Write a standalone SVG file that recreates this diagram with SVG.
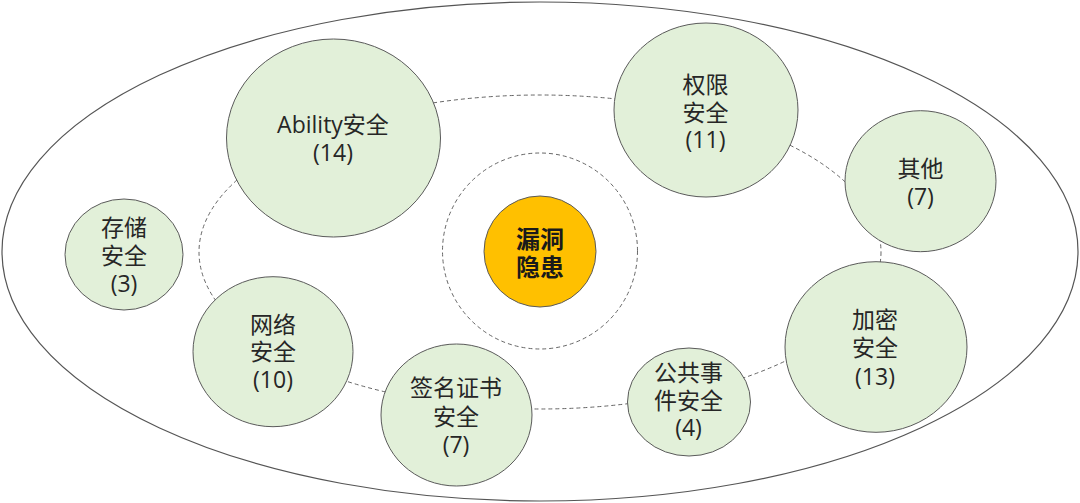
<svg xmlns="http://www.w3.org/2000/svg" width="1080" height="503" viewBox="0 0 1080 503">
<style>
.outer{fill:#FFFFFF;stroke:#555555;stroke-width:1.2}
.orbit{fill:none;stroke:#666666;stroke-width:1;stroke-dasharray:4 3}
.node{fill:#E2F0D9;stroke:#5A5A5A;stroke-width:1}
.core{fill:#FFC000;stroke:#5A5A5A;stroke-width:1}
text{font-family:"Open Sans","Noto Sans CJK SC",sans-serif;font-size:23px;fill:#262626;text-anchor:middle}
.bold{font-family:"Noto Sans CJK SC",sans-serif;font-weight:bold;font-size:24px;fill:#1a1a1a}
</style>
<rect width="1080" height="503" fill="#FFFFFF"/>
<ellipse id="outer" class="outer" cx="540" cy="251.5" rx="538" ry="249.5"/>
<g id="connectors">
<ellipse class="orbit" cx="540" cy="252" rx="341" ry="157"/>
<ellipse class="orbit" cx="540" cy="251" rx="97.5" ry="98"/>
</g>
<g id="core">
<ellipse class="core" cx="540" cy="251.5" rx="56" ry="55.5"/>
<text class="bold" x="540" y="248">漏洞<tspan x="540" dy="27.5">隐患</tspan></text>
</g>
<g id="ability">
<ellipse class="node" cx="333.5" cy="138" rx="107" ry="99"/>
<text x="333" y="133">Ability安全<tspan x="333" dy="28">(14)</tspan></text>
</g>
<g id="storage">
<ellipse class="node" cx="124" cy="254.5" rx="59" ry="55.5"/>
<text x="124" y="236">存储<tspan x="124" dy="28">安全</tspan><tspan x="124" dy="28">(3)</tspan></text>
</g>
<g id="network">
<ellipse class="node" cx="273" cy="351.7" rx="80" ry="75"/>
<text x="273" y="333">网络<tspan x="273" dy="27">安全</tspan><tspan x="273" dy="28">(10)</tspan></text>
</g>
<g id="signature">
<ellipse class="node" cx="456.5" cy="415" rx="75.5" ry="71"/>
<text x="456" y="396">签名证书<tspan x="456" dy="29">安全</tspan><tspan x="456" dy="28">(7)</tspan></text>
</g>
<g id="event">
<ellipse class="node" cx="689" cy="402" rx="61.5" ry="54"/>
<text x="688.5" y="381">公共事<tspan x="688.5" dy="28">件安全</tspan><tspan x="688.5" dy="27">(4)</tspan></text>
</g>
<g id="permission">
<ellipse class="node" cx="706" cy="110" rx="92" ry="87"/>
<text x="705.5" y="93">权限<tspan x="705.5" dy="28">安全</tspan><tspan x="705.5" dy="27">(11)</tspan></text>
</g>
<g id="other">
<ellipse class="node" cx="920.5" cy="181.2" rx="75.5" ry="70.5"/>
<text x="920.5" y="177">其他<tspan x="920.5" dy="28">(7)</tspan></text>
</g>
<g id="crypto">
<ellipse class="node" cx="876" cy="347" rx="91" ry="85.3"/>
<text x="875" y="328">加密<tspan x="875" dy="28">安全</tspan><tspan x="875" dy="28.5">(13)</tspan></text>
</g>
</svg>
